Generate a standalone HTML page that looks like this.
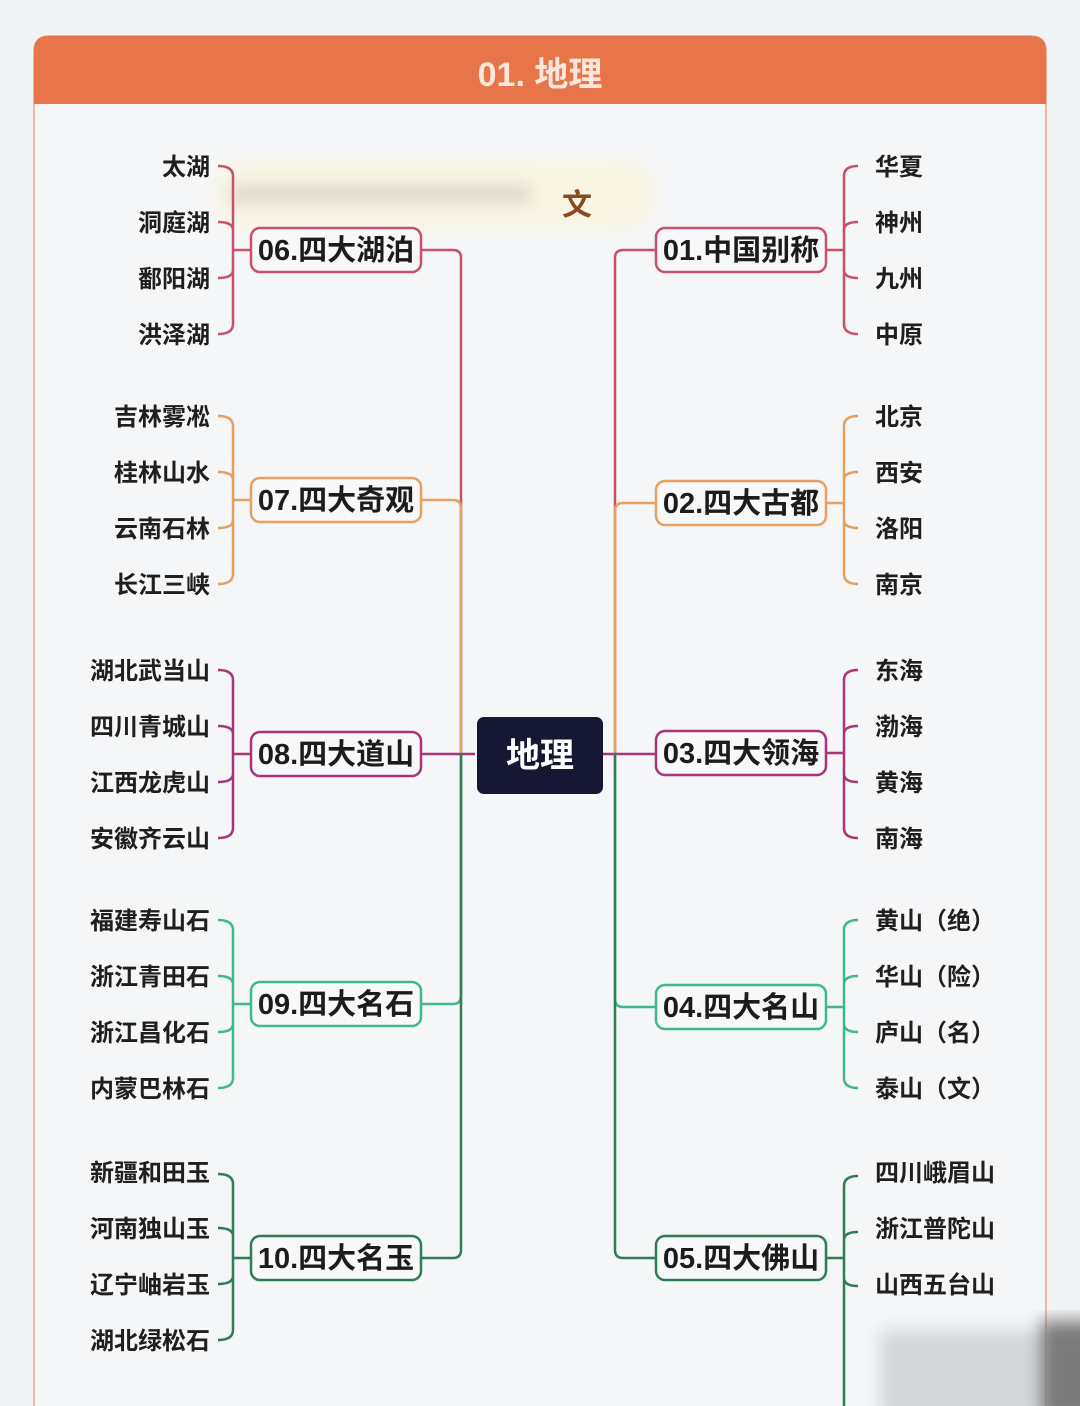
<!DOCTYPE html>
<html><head><meta charset="utf-8">
<style>
html,body{margin:0;padding:0;background:#f3f4f6;}
svg{display:block;}
text{font-family:"Liberation Sans","Noto Sans CJK SC",sans-serif;font-weight:bold;}
</style></head><body>
<svg width="1080" height="1406" viewBox="0 0 1080 1406" xmlns="http://www.w3.org/2000/svg">
<defs><filter id="b"><feGaussianBlur stdDeviation="8"/></filter></defs>
<rect x="0" y="0" width="1080" height="1406" fill="#f1f3f5"/>
<rect x="34" y="36" width="1012" height="1390" rx="14" fill="#f4f6f8" stroke="#ebb9a3" stroke-width="2"/>
<path d="M34 104 V50 Q34 36 48 36 H1032 Q1046 36 1046 50 V104 Z" fill="#e8744a"/>
<text x="540" y="86" font-size="34" fill="#fbe7dc" text-anchor="middle">01. 地理</text>

<!-- blurred artifact -->
<g filter="url(#b)" opacity="0.85">
<rect x="215" y="160" width="440" height="70" rx="30" fill="#fbf5e1"/>
<rect x="230" y="185" width="300" height="18" fill="#d9cfc0"/>
</g>
<text x="577" y="215" font-size="30" fill="#8a4a20" text-anchor="middle">文</text>

<g fill="none" stroke-width="2.5">
<!-- left trunk branches -->
<path d="M461 754 V258 Q461 250 453 250 H421" stroke="#c8506a"/>
<path d="M461 754 V508 Q461 500 453 500 H421" stroke="#e8a060"/>
<path d="M475 754 H421" stroke="#a8357a"/>
<path d="M461 754 V996 Q461 1004 453 1004 H421" stroke="#3fb88e"/>
<path d="M461 754 V1250 Q461 1258 453 1258 H421" stroke="#2e7d55"/>
<!-- right -->
<path d="M615 754 V258 Q615 250 623 250 H656" stroke="#c8506a"/>
<path d="M615 754 V511 Q615 503 623 503 H656" stroke="#e8a060"/>
<path d="M603 754 H656" stroke="#a8357a"/>
<path d="M615 754 V999 Q615 1007 623 1007 H656" stroke="#3fb88e"/>
<path d="M615 754 V1250 Q615 1258 623 1258 H656" stroke="#2e7d55"/>

<!-- left brackets -->
<g stroke="#c8506a"><path d="M251 250 H234 M218 166 Q233 166 233 176 V324 Q233 334 218 334 M218 222 Q233 222 233 230 M218 278 Q233 278 233 270"/></g>
<g stroke="#e8a060"><path d="M251 500 H234 M218 416 Q233 416 233 426 V574 Q233 584 218 584 M218 472 Q233 472 233 480 M218 528 Q233 528 233 520"/></g>
<g stroke="#a8357a"><path d="M251 754 H234 M218 670 Q233 670 233 680 V828 Q233 838 218 838 M218 726 Q233 726 233 734 M218 782 Q233 782 233 774"/></g>
<g stroke="#3fb88e"><path d="M251 1004 H234 M218 920 Q233 920 233 930 V1078 Q233 1088 218 1088 M218 976 Q233 976 233 984 M218 1032 Q233 1032 233 1024"/></g>
<g stroke="#2e7d55"><path d="M251 1258 H234 M218 1174 Q233 1174 233 1184 V1330 Q233 1340 218 1340 M218 1228 Q233 1228 233 1236 M218 1284 Q233 1284 233 1276"/></g>

<!-- right brackets -->
<g stroke="#c8506a"><path d="M826 250 H844 M858 166 Q844 166 844 176 V324 Q844 334 858 334 M858 222 Q844 222 844 230 M858 278 Q844 278 844 270"/></g>
<g stroke="#e8a060"><path d="M826 503 H844 M858 416 Q844 416 844 426 V574 Q844 584 858 584 M858 472 Q844 472 844 480 M858 528 Q844 528 844 520"/></g>
<g stroke="#a8357a"><path d="M826 753 H844 M858 670 Q844 670 844 680 V828 Q844 838 858 838 M858 726 Q844 726 844 734 M858 782 Q844 782 844 774"/></g>
<g stroke="#3fb88e"><path d="M826 1007 H844 M858 920 Q844 920 844 930 V1078 Q844 1088 858 1088 M858 976 Q844 976 844 984 M858 1032 Q844 1032 844 1024"/></g>
<g stroke="#2e7d55"><path d="M826 1258 H844 M858 1176 Q844 1176 844 1186 V1406 M858 1232 Q844 1232 844 1240 M858 1286 Q844 1286 844 1278"/></g>

<!-- node boxes -->
<rect x="251" y="228" width="170" height="44" rx="9" fill="#f7f8fa" stroke="#c8506a"/>
<rect x="251" y="478" width="170" height="44" rx="9" fill="#f7f8fa" stroke="#e8a060"/>
<rect x="251" y="732" width="170" height="44" rx="9" fill="#f7f8fa" stroke="#a8357a"/>
<rect x="251" y="982" width="170" height="44" rx="9" fill="#f7f8fa" stroke="#3fb88e"/>
<rect x="251" y="1236" width="170" height="44" rx="9" fill="#f7f8fa" stroke="#2e7d55"/>
<rect x="656" y="228" width="170" height="44" rx="9" fill="#f7f8fa" stroke="#c8506a"/>
<rect x="656" y="481" width="170" height="44" rx="9" fill="#f7f8fa" stroke="#e8a060"/>
<rect x="656" y="731" width="170" height="44" rx="9" fill="#f7f8fa" stroke="#a8357a"/>
<rect x="656" y="985" width="170" height="44" rx="9" fill="#f7f8fa" stroke="#3fb88e"/>
<rect x="656" y="1236" width="170" height="44" rx="9" fill="#f7f8fa" stroke="#2e7d55"/>
</g>

<rect x="477" y="717" width="126" height="77" rx="7" fill="#151733"/>
<text x="540" y="767" font-size="34" fill="#ffffff" text-anchor="middle">地理</text>

<g font-size="29" fill="#1c1c1c" text-anchor="middle">
<text x="336" y="260">06.四大湖泊</text>
<text x="336" y="510">07.四大奇观</text>
<text x="336" y="764">08.四大道山</text>
<text x="336" y="1014">09.四大名石</text>
<text x="336" y="1268">10.四大名玉</text>
<text x="741" y="260">01.中国别称</text>
<text x="741" y="513">02.四大古都</text>
<text x="741" y="763">03.四大领海</text>
<text x="741" y="1017">04.四大名山</text>
<text x="741" y="1268">05.四大佛山</text>
</g>

<g font-size="24" fill="#1f1f1f" text-anchor="end">
<text x="210" y="175">太湖</text><text x="210" y="231">洞庭湖</text><text x="210" y="287">鄱阳湖</text><text x="210" y="343">洪泽湖</text>
<text x="210" y="425">吉林雾凇</text><text x="210" y="481">桂林山水</text><text x="210" y="537">云南石林</text><text x="210" y="593">长江三峡</text>
<text x="210" y="679">湖北武当山</text><text x="210" y="735">四川青城山</text><text x="210" y="791">江西龙虎山</text><text x="210" y="847">安徽齐云山</text>
<text x="210" y="929">福建寿山石</text><text x="210" y="985">浙江青田石</text><text x="210" y="1041">浙江昌化石</text><text x="210" y="1097">内蒙巴林石</text>
<text x="210" y="1181">新疆和田玉</text><text x="210" y="1237">河南独山玉</text><text x="210" y="1293">辽宁岫岩玉</text><text x="210" y="1349">湖北绿松石</text>
</g>
<g font-size="24" fill="#1f1f1f">
<text x="875" y="175">华夏</text><text x="875" y="231">神州</text><text x="875" y="287">九州</text><text x="875" y="343">中原</text>
<text x="875" y="425">北京</text><text x="875" y="481">西安</text><text x="875" y="537">洛阳</text><text x="875" y="593">南京</text>
<text x="875" y="679">东海</text><text x="875" y="735">渤海</text><text x="875" y="791">黄海</text><text x="875" y="847">南海</text>
<text x="875" y="929">黄山（绝）</text><text x="875" y="985">华山（险）</text><text x="875" y="1041">庐山（名）</text><text x="875" y="1097">泰山（文）</text>
<text x="875" y="1181">四川峨眉山</text><text x="875" y="1237">浙江普陀山</text><text x="875" y="1293">山西五台山</text>
</g>

<!-- bottom-right shadow artifact -->
<g filter="url(#b)">
<rect x="880" y="1330" width="230" height="90" fill="#bfc2c6" opacity="0.6"/>
<rect x="1040" y="1320" width="60" height="100" fill="#555" opacity="0.7"/>
</g>
</svg>
</body></html>
